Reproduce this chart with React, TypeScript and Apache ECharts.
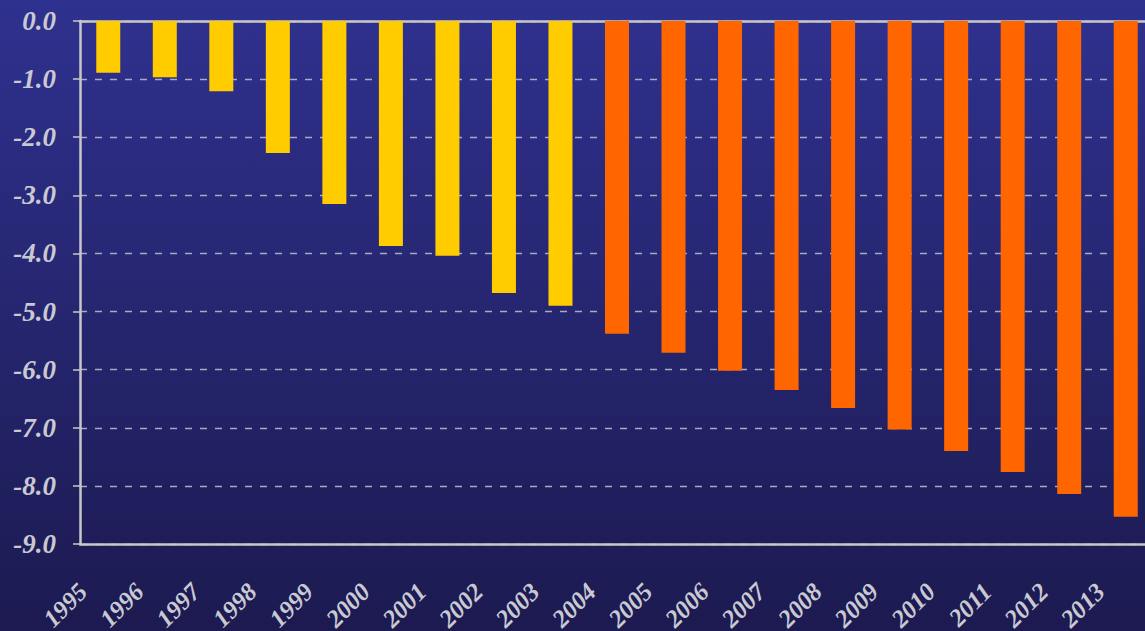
import React, { useEffect, useRef } from "react";
import * as echarts from "echarts";

const years = ["1995","1996","1997","1998","1999","2000","2001","2002","2003","2004","2005","2006","2007","2008","2009","2010","2011","2012","2013"];
const values = [-0.89,-0.97,-1.21,-2.27,-3.15,-3.87,-4.04,-4.68,-4.90,-5.38,-5.71,-6.02,-6.35,-6.66,-7.03,-7.40,-7.76,-8.14,-8.53];
const yellowYears = ["1995","1996","1997","1998","1999","2000","2001","2002","2003"];
const yellow = "#FFCC00";
const orange = "#FF6600";

export default function App() {
  const ref = useRef<HTMLDivElement>(null);
  useEffect(() => {
    const chart = echarts.init(ref.current!, null, { renderer: "svg" });
    const labelFont = {
      color: "#c9c9d2",
      fontFamily: "Liberation Serif",
      fontWeight: "bold" as const,
      fontStyle: "italic" as const,
      fontSize: 27,
    };
    chart.setOption({
      animation: false,
      backgroundColor: {
        type: "linear", x: 0, y: 0, x2: 0, y2: 1,
        colorStops: [
          { offset: 0, color: "#2f318f" },
          { offset: 1, color: "#1c1a50" },
        ],
      },
      grid: { left: 80, top: 21, right: -9, bottom: 87, outerBoundsMode: "none", containLabel: false },
      xAxis: [
        {
          type: "category",
          data: years,
          position: "bottom",
          axisLine: { show: true, onZero: false, lineStyle: { color: "#c8c8c8", width: 2.5 } },
          axisTick: { show: false },
          axisLabel: { ...labelFont, fontSize: 25, rotate: 45, margin: 18, interval: 0, padding: [0, 36, 0, 0] },
          splitLine: { show: false },
        },
        {
          type: "category",
          data: years,
          position: "top",
          axisLine: { show: true, onZero: false, lineStyle: { color: "#c8c8c8", width: 2.5 } },
          axisTick: { show: false },
          axisLabel: { show: false },
        },
      ],
      yAxis: {
        type: "value",
        min: -9,
        max: 0,
        interval: 1,
        axisLine: { show: true, lineStyle: { color: "#c8c8c8", width: 2.5 } },
        axisTick: { show: true, length: 7, lineStyle: { color: "#c8c8c8", width: 1.5 } },
        axisLabel: { ...labelFont, margin: 24, formatter: (v: number) => v.toFixed(1) },
        splitLine: { show: true, lineStyle: { color: "#a9a9c0", width: 1.3, type: [7, 8] } },
      },
      series: [
        {
          type: "bar",
          xAxisIndex: 0,
          barWidth: 24,
          data: values.map((v, i) => ({
            value: v,
            itemStyle: { color: yellowYears.includes(years[i]) ? yellow : orange },
          })),
        },
      ],
    });
    return () => chart.dispose();
  }, []);
  return <div ref={ref} style={{ position: "fixed", left: 0, top: 0, width: 1145, height: 631 }} />;
}
